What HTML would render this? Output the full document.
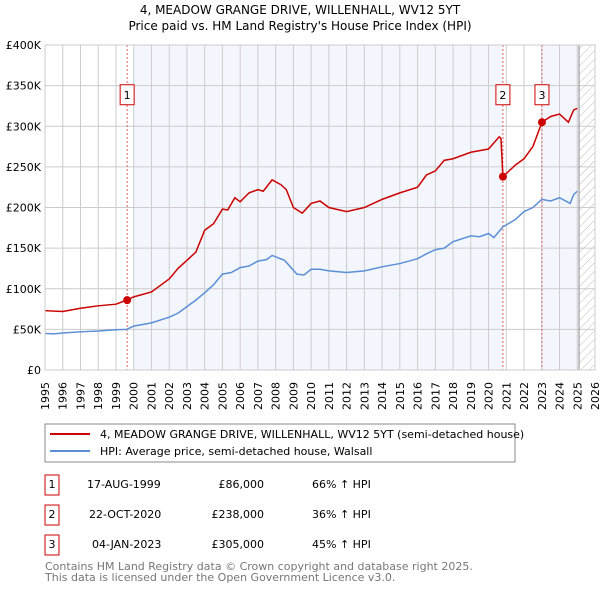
<!DOCTYPE html>
<html><head><meta charset="utf-8"><style>
body{margin:0;background:#fff;font-family:"DejaVu Sans","Liberation Sans",sans-serif;}
svg text{font-family:"DejaVu Sans","Liberation Sans",sans-serif;}
</style></head><body>
<svg id="c" width="600" height="590" xmlns="http://www.w3.org/2000/svg">
<defs><pattern id="hatch" width="6" height="6" patternUnits="userSpaceOnUse" patternTransform="rotate(45)"><line x1="0" y1="0" x2="0" y2="6" stroke="#bbb" stroke-width="1"/></pattern></defs>
<text x="300" y="14" text-anchor="middle" font-size="12">4, MEADOW GRANGE DRIVE, WILLENHALL, WV12 5YT</text>
<text x="300" y="30" text-anchor="middle" font-size="12">Price paid vs. HM Land Registry's House Price Index (HPI)</text>
<g id="plot"></g>
<rect x="45" y="424" width="470" height="38" fill="#fff" stroke="#888"/>
<line x1="50" y1="434" x2="90" y2="434" stroke="#cc0000" stroke-width="2"/>
<text x="100" y="438" font-size="11">4, MEADOW GRANGE DRIVE, WILLENHALL, WV12 5YT (semi-detached house)</text>
<line x1="50" y1="451" x2="90" y2="451" stroke="#5b8fd6" stroke-width="2"/>
<text x="100" y="455" font-size="11">HPI: Average price, semi-detached house, Walsall</text>
<g font-size="11">
<rect x="45" y="475" width="14" height="20" fill="none" stroke="#cc0000"/><text x="52" y="488" text-anchor="middle">1</text>
<text x="87" y="488">17-AUG-1999</text><text x="264" y="488" text-anchor="end">£86,000</text><text x="312" y="488">66% ↑ HPI</text>
<rect x="45" y="505" width="14" height="20" fill="none" stroke="#cc0000"/><text x="52" y="518" text-anchor="middle">2</text>
<text x="89" y="518">22-OCT-2020</text><text x="264" y="518" text-anchor="end">£238,000</text><text x="312" y="518">36% ↑ HPI</text>
<rect x="45" y="535" width="14" height="20" fill="none" stroke="#cc0000"/><text x="52" y="548" text-anchor="middle">3</text>
<text x="92" y="548">04-JAN-2023</text><text x="264" y="548" text-anchor="end">£305,000</text><text x="312" y="548">45% ↑ HPI</text>
</g>
<text x="45" y="570" font-size="11" fill="#777">Contains HM Land Registry data © Crown copyright and database right 2025.</text>
<text x="45" y="581" font-size="11" fill="#777">This data is licensed under the Open Government Licence v3.0.</text>
</svg>
<script>
const years=[1995,1996,1997,1998,1999,2000,2001,2002,2003,2004,2005,2006,2007,2008,2009,2010,2011,2012,2013,2014,2015,2016,2017,2018,2019,2020,2021,2022,2023,2024,2025,2026];
const yTicks=[0,50000,100000,150000,200000,250000,300000,350000,400000];
const yTickLabels=["£0","£50K","£100K","£150K","£200K","£250K","£300K","£350K","£400K"];
const hpiT=[1995,1995.5,1996,1997,1998,1999,1999.6,2000,2001,2002,2002.5,2003,2003.5,2004,2004.5,2005,2005.5,2006,2006.5,2007,2007.5,2007.8,2008.5,2009.2,2009.6,2010,2010.5,2011,2012,2013,2014,2015,2016,2016.5,2017,2017.5,2018,2019,2019.5,2020,2020.3,2020.8,2021.5,2022,2022.5,2023,2023.5,2024,2024.6,2024.8,2025];
const hpiV=[45000,44500,45500,47000,48000,49500,50000,54000,58000,65000,70000,78000,86000,95000,105000,118000,120000,126000,128000,134000,136000,141000,135000,118000,117000,124000,124000,122000,120000,122000,127000,131000,137000,143000,148000,150000,158000,165000,164000,168000,163000,176000,185000,195000,200000,210000,208000,212000,205000,216000,220000];
const redT=[1995,1996,1997,1998,1999,1999.6,2000,2001,2002,2002.5,2003,2003.5,2004,2004.5,2005,2005.3,2005.7,2006,2006.5,2007,2007.3,2007.8,2008.3,2008.6,2009,2009.5,2010,2010.5,2011,2012,2013,2014,2015,2016,2016.5,2017,2017.5,2018,2019,2019.5,2020,2020.6,2020.7,2020.81,2021.5,2022,2022.5,2023.01,2023.5,2024,2024.5,2024.8,2025];
const redV=[73000,72000,76000,79000,81000,86000,90000,96000,112000,125000,135000,145000,172000,180000,198000,197000,212000,207000,218000,222000,220000,234000,228000,222000,200000,193000,205000,208000,200000,195000,200000,210000,218000,225000,240000,245000,258000,260000,268000,270000,272000,287000,285000,238000,252000,260000,275000,305000,312000,315000,305000,320000,322000];
const sales=[[1999.63,86000,"1"],[2020.81,238000,"2"],[2023.01,305000,"3"]];
const L=45,R=595,T=45,B=370,x0=1995,x1=2026;
const X=t=>L+(t-x0)/(x1-x0)*(R-L), Y=v=>B-v/400000*(B-T);
const NS="http://www.w3.org/2000/svg",g=document.getElementById('plot');
function mk(tag,a,parent){const e=document.createElementNS(NS,tag);for(const k in a)e.setAttribute(k,a[k]);(parent||g).appendChild(e);return e;}
let e;
e=mk('rect',{x:X(2000),y:T,width:X(2020.81)-X(2000),height:B-T,fill:'#eef3fc',opacity:0.7});


e=mk('rect',{x:X(2023.01),y:T,width:X(2025)-X(2023.01),height:B-T,fill:'#eef3fc',opacity:0.7});


e=mk('rect',{x:X(2025.1),y:T,width:R-X(2025.1),height:B-T,fill:'url(#hatch)'});


years.forEach(y=>{
 e=mk('line',{x1:X(y),x2:X(y),y1:T,y2:B,stroke:'#ccc'});
 
 
 e=mk('text',{x:X(y),y:B+12,'font-size':11,'text-anchor':'end',transform:`rotate(-90 ${X(y)} ${B+12})`,dy:'4'});
 e.textContent=y;
 
 
});
yTicks.forEach((v,i)=>{
 e=mk('line',{x1:L,x2:R,y1:Y(v),y2:Y(v),stroke:'#ccc'});
 
 
 e=mk('text',{x:L-4,y:Y(v)+4,'font-size':11,'text-anchor':'end'});
 e.textContent=yTickLabels[i];
 
 
});
e=mk('line',{x1:X(2025.1),x2:X(2025.1),y1:T,y2:B,stroke:'#888'});


sales.forEach(s=>{
 e=mk('line',{x1:X(s[0]),x2:X(s[0]),y1:T,y2:B,stroke:'#e06060','stroke-dasharray':'2,2'});
 
 
});
e=mk('polyline',{points:hpiT.map((t,i)=>X(t)+','+Y(hpiV[i])).join(' '),fill:'none',stroke:'#5b8fd6','stroke-width':1.5});


e=mk('polyline',{points:redT.map((t,i)=>X(t)+','+Y(redV[i])).join(' '),fill:'none',stroke:'#cc0000','stroke-width':1.5});


sales.forEach(s=>{
 e=mk('circle',{cx:X(s[0]),cy:Y(s[1]),r:4,fill:'#cc0000'});
 
 
 e=mk('rect',{x:X(s[0])-7,y:Y(340000)-9,width:14,height:20,fill:'#fff',stroke:'#cc0000'});
 
 
 e=mk('text',{x:X(s[0]),y:Y(340000)+5,'font-size':11,'text-anchor':'middle'});
 e.textContent=s[2];
 
 
});
e=mk('rect',{x:L,y:T,width:R-L,height:B-T,fill:'none',stroke:'#ccc'});


</script>
</body></html>
